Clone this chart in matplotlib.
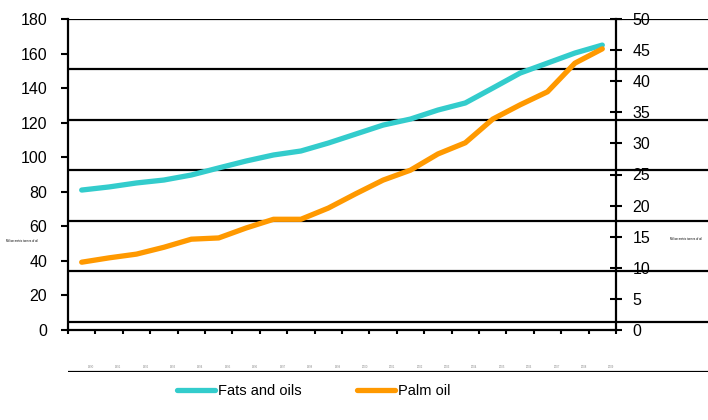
import matplotlib
matplotlib.use('Agg')
import matplotlib.pyplot as plt

plt.rcParams['font.family'] = ['Liberation Sans', 'DejaVu Sans']

years = [str(y) for y in range(1990, 2010)]
fats_and_oils = [81.0, 82.8, 85.1, 86.8, 89.7, 93.8, 97.8, 101.3, 103.6, 108.2,
                 113.4, 118.6, 122.1, 127.3, 131.4, 140.0, 148.7, 154.5, 160.3, 164.9]
palm_oil = [10.9, 11.6, 12.2, 13.3, 14.6, 14.8, 16.4, 17.8, 17.8, 19.6,
            21.9, 24.1, 25.7, 28.3, 30.1, 33.9, 36.2, 38.3, 42.9, 45.2]
left_ticks = list(range(0, 181, 20))
right_ticks = list(range(0, 51, 5))
unit_label = "Million metric tonnes of oil"

W, H = 708, 420
fig = plt.figure(figsize=(W / 100, H / 100), dpi=100)

# overlay with the horizontal black bands, reaching the right edge
ax3 = fig.add_axes([68 / W, (H - 372) / H, 640 / W, 353 / H])
ax3.set_xlim(-0.5, -0.5 + 640 / 27.4)
ax3.set_ylim(0, 7)
for k in range(8):
    ax3.axhline(k, color='black', lw=1.6, zorder=1)
ax3.axis('off')
for i, yr in enumerate(years):
    ax3.text(i + 0.33, 0.05, yr, fontsize=2, color='#888888', ha='center', va='bottom')

ax = fig.add_axes([68 / W, (H - 330) / H, 548 / W, 311 / H])
ax.patch.set_alpha(0)
x = list(range(len(years)))
l1, = ax.plot(x, fats_and_oils, color='#33CCCC', lw=3.8, solid_capstyle='round',
              label='Fats and oils', zorder=3)
ax.set_xlim(-0.5, len(years) - 0.5)
ax.set_ylim(0, 180)
ax.set_yticks(left_ticks)
ax.set_xticks([i - 0.5 for i in range(len(years) + 1)])
ax.set_xticklabels([])
ax.tick_params(axis='y', direction='out', length=5, width=1.5, labelsize=11.5, pad=10)
ax.tick_params(axis='x', direction='out', length=3, width=1.5)
for s in ['top', 'right']:
    ax.spines[s].set_visible(False)
for s in ['left', 'bottom']:
    ax.spines[s].set_linewidth(1.6)
ax.set_ylabel(unit_label, fontsize=2, rotation=0, labelpad=0)
ax.yaxis.set_label_coords(-0.085, 0.28)

ax2 = ax.twinx()
l2, = ax2.plot(x, palm_oil, color='#FF9900', lw=3.8, solid_capstyle='round',
               label='Palm oil', zorder=3)
ax2.set_ylim(0, 50)
ax2.set_yticks(right_ticks)
ax2.tick_params(axis='y', direction='inout', length=8, width=1.5, labelsize=11.5, pad=8)
for s in ['top', 'left', 'bottom']:
    ax2.spines[s].set_visible(False)
ax2.spines['right'].set_linewidth(1.6)
ax2.set_ylabel(unit_label, fontsize=2, rotation=0, labelpad=0)
ax2.yaxis.set_label_coords(1.128, 0.3)

fig.legend(handles=[l1, l2], loc='center', bbox_to_anchor=(0.443, 0.069), ncol=2,
           frameon=False, fontsize=10.5, handlelength=2.6, handletextpad=0.2,
           columnspacing=3.8)

fig.savefig('out.png', dpi=100)
